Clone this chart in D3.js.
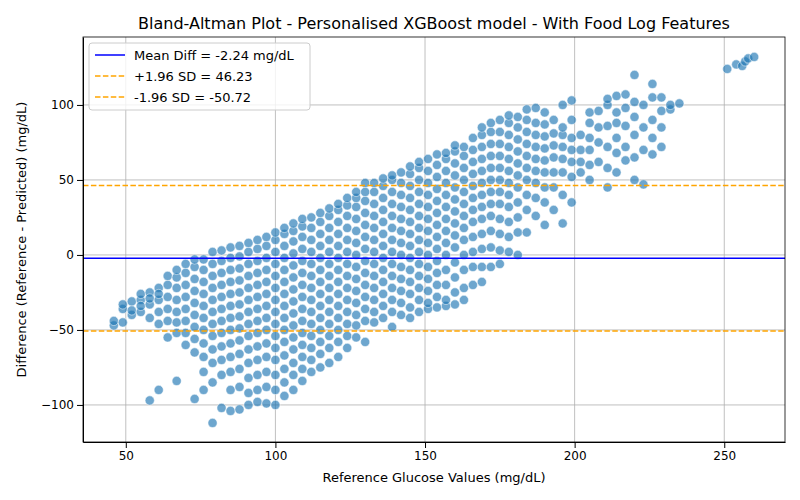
<!DOCTYPE html>
<html><head><meta charset="utf-8">
<script src="https://cdn.jsdelivr.net/npm/d3@7"></script>
<style>body{margin:0;background:#fff}text{font-family:"DejaVu Sans",sans-serif}</style>
</head><body><svg id="c" width="800" height="500"></svg>
<script>
const columnX = [46,49,52,55,58,61,64,67,70,73,76,79,82,85,88,91,94,97,100,103,106,109,112,115,118,121,124,127,130,133,136,139,142,145,148,151,154,157,160,163,166,169,172,175,178,181,184,187,190,193,196,199,202,205,208,211,214,217,220,223,226,229,232,235];
const columnDiffs = [
[-47,-44],[-45,-36,-33],[-40,-31,-37],[-38,-30,-26,-34],[-97,-42,-33,-25,-29],[-90,-46,-38,-30,-22,-26],
[-55,-44,-36,-28,-20,-14],[-84,-52,-45,-38,-30,-22,-15,-10],[-60,-52,-44,-36,-28,-20,-12,-6],
[-96,-65,-56,-48,-40,-32,-24,-16,-8,-3],[-90,-78,-68,-59,-50,-42,-34,-26,-18,-10,-3],
[-112,-85,-72,-63,-54,-46,-38,-30,-22,-14,-6,2],[-102,-80,-70,-61,-52,-44,-36,-28,-20,-12,-4,3],
[-104,-90,-78,-68,-59,-50,-42,-34,-26,-18,-10,-2,5],[-103,-88,-76,-66,-57,-49,-41,-33,-25,-17,-9,-1,6],
[-100,-92,-82,-72,-63,-54,-46,-38,-30,-22,-14,-6,2,8],[-98,-90,-80,-70,-61,-52,-44,-36,-28,-20,-12,-4,4,10],
[-99,-88,-78,-68,-59,-50,-42,-34,-26,-18,-10,-2,6,12],[-100,-90,-80,-70,-62,-54,-46,-38,-30,-22,-14,-6,2,10,15],
[-94,-85,-76,-67,-58,-50,-42,-34,-26,-18,-10,-2,6,14,18],[-90,-80,-72,-63,-55,-47,-39,-31,-23,-15,-7,1,9,16,21],
[-84,-76,-68,-60,-52,-44,-36,-28,-20,-12,-4,4,12,19,24],[-78,-70,-62,-54,-46,-38,-30,-22,-14,-6,2,10,18,25],
[-75,-66,-58,-50,-42,-34,-26,-18,-10,-2,6,14,22,28],[-72,-62,-54,-46,-38,-30,-22,-14,-6,2,10,18,26,31],
[-68,-58,-50,-42,-34,-26,-18,-10,-2,6,14,22,30,34],[-62,-54,-46,-38,-30,-22,-14,-6,2,10,18,26,33,38],
[-55,-47,-40,-32,-24,-16,-8,0,8,16,24,32,38,42],[-58,-44,-36,-28,-20,-12,-4,4,12,20,28,36,42,48],
[-45,-38,-30,-22,-14,-6,2,10,18,26,34,42,48],[-42,-34,-26,-18,-10,-2,6,14,22,30,38,46,51],
[-48,-38,-30,-22,-14,-6,2,10,18,26,34,42,50,53],[-40,-32,-24,-16,-8,0,8,16,24,32,40,48,55],
[-42,-35,-26,-18,-10,-2,6,14,22,30,38,46,54,59],[-38,-30,-22,-14,-6,2,10,18,26,34,42,50,58,62],
[-36,-32,-24,-16,-8,0,8,16,24,32,40,48,56,64],[-35,-28,-20,-12,-4,4,12,20,28,36,44,52,60,67],
[-34,-30,-20,-10,0,8,16,24,32,40,48,56,64,68],[-33,-25,-15,-5,5,13,21,29,37,45,53,61,69,73],
[-30,-22,-10,0,10,18,26,34,42,50,58,66,72],[-20,-8,2,12,22,30,38,46,54,62,70,78],
[-18,-8,4,14,24,32,40,48,56,64,72,80,85],[-8,5,16,26,34,42,50,58,66,74,82,88],
[-6,3,14,24,34,42,50,58,66,74,82,90],[2,12,22,32,40,48,56,64,72,80,88,93],
[0,15,25,35,45,53,61,69,77,85,92],[15,30,40,50,58,66,74,82,90,97],[26,38,48,56,64,72,80,88,98],
[20,35,45,55,63,71,79,87,95],[30,45,55,65,73,81,90],[21,40,55,64,72,80,85,100],[35,52,62,70,78,90,103],
[55,62,70,80],[50,60,70,78,88,95],[62,75,85,96],[45,58,72,86,100,104],[55,68,78,88,95,106],
[63,72,86,98,107],[50,65,80,92,102,120],[47,70,85,100],[67,78,90,105,114],[72,85,96,105],[97,100],[101]];
const extraX = [251,254,256,257,258,260];
const extraDiff = [124,127,126,129,131,132];
const meanDiff = -2.24, upperLoA = 46.23, lowerLoA = -50.72;
const xTicks = [50,100,150,200,250], yTicks = [-100,-50,0,50,100];

const pts = [];
columnX.forEach((x,i)=>columnDiffs[i].forEach(y=>pts.push([x,y])));
extraX.forEach((x,i)=>pts.push([x,extraDiff[i]]));

const svg = d3.select("#c");
const L=83,R=785,T=37,B=442;
const x = d3.scaleLinear().domain([35.7,270.3]).range([L,R]);
const y = d3.scaleLinear().domain([-124.7,145.3]).range([B,T]);
const g = svg.append("g");
g.selectAll(".gx").data(xTicks).join("line").attr("x1",d=>x(d)).attr("x2",d=>x(d)).attr("y1",T).attr("y2",B).attr("stroke","#b0b0b0").attr("stroke-width",0.8);
g.selectAll(".gy").data(yTicks).join("line").attr("y1",d=>y(d)).attr("y2",d=>y(d)).attr("x1",L).attr("x2",R).attr("stroke","#b0b0b0").attr("stroke-width",0.8);
g.selectAll("circle").data(pts).join("circle").attr("cx",d=>x(d[0])).attr("cy",d=>y(d[1])).attr("r",4.6)
 .attr("fill","#1f77b4").attr("fill-opacity",0.65).attr("stroke","#fff").attr("stroke-width",0.5);
g.append("line").attr("x1",L).attr("x2",R).attr("y1",y(meanDiff)).attr("y2",y(meanDiff)).attr("stroke","blue").attr("stroke-width",1.5);
[upperLoA,lowerLoA].forEach(v=>g.append("line").attr("x1",L).attr("x2",R).attr("y1",y(v)).attr("y2",y(v)).attr("stroke","orange").attr("stroke-width",1.5).attr("stroke-dasharray","5.5,2.4"));
svg.append("g").attr("transform",`translate(0,${B})`).call(d3.axisBottom(x).tickValues(xTicks).tickSizeOuter(0)).attr("font-size",12);
svg.append("g").attr("transform",`translate(${L},0)`).call(d3.axisLeft(y).tickValues(yTicks).tickSizeOuter(0).tickFormat(d=>d<0?"\u2212"+(-d):d)).attr("font-size",12);
svg.selectAll(".tick text").attr("fill","#000").style("font-family","DejaVu Sans");
svg.append("rect").attr("x",L).attr("y",T).attr("width",R-L).attr("height",B-T).attr("fill","none").attr("stroke","#000").attr("stroke-width",0.8);
svg.append("text").attr("x",(L+R)/2).attr("y",29).attr("text-anchor","middle").attr("font-size",16).text("Bland-Altman Plot - Personalised XGBoost model - With Food Log Features");
svg.append("text").attr("x",(L+R)/2).attr("y",482).attr("text-anchor","middle").attr("font-size",13).text("Reference Glucose Values (mg/dL)");
svg.append("text").attr("transform",`translate(26,${(T+B)/2}) rotate(-90)`).attr("text-anchor","middle").attr("font-size",13).text("Difference (Reference - Predicted) (mg/dL)");
const leg = svg.append("g");
leg.append("rect").attr("x",89).attr("y",43).attr("width",221).attr("height",67).attr("rx",3).attr("fill","#fff").attr("fill-opacity",0.8).attr("stroke","#ccc");
const items=[["Mean Diff = -2.24 mg/dL","blue",null],["+1.96 SD = 46.23","orange","5.5,2.4"],["-1.96 SD = -50.72","orange","5.5,2.4"]];
items.forEach((it,i)=>{const yy=55+i*21;
 leg.append("line").attr("x1",95).attr("x2",125).attr("y1",yy).attr("y2",yy).attr("stroke",it[1]).attr("stroke-width",1.5).attr("stroke-dasharray",it[2]);
 leg.append("text").attr("x",134).attr("y",yy+4.5).attr("font-size",13).text(it[0]);});
</script></body></html>
